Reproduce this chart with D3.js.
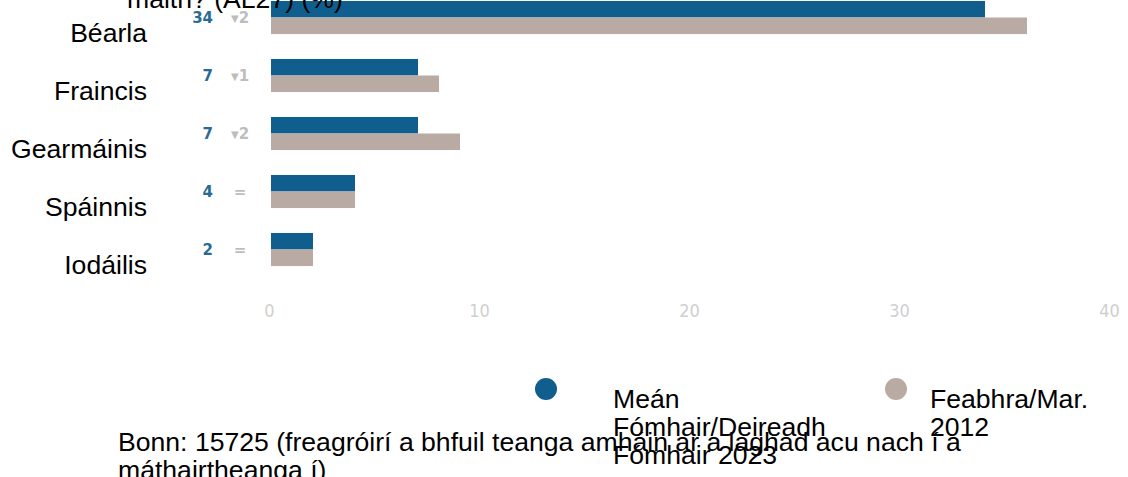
<!DOCTYPE html>
<html>
<head>
<meta charset="utf-8">
<script src="https://cdn.jsdelivr.net/npm/d3@7"></script>
<style>
  html, body { margin: 0; padding: 0; background: #fff; }
  svg { display: block; }
</style>
</head>
<body>
<svg id="chart" width="1128" height="477"></svg>
<script>
// Languages spoken well enough to hold a conversation (%)
const categories = ["Béarla", "Fraincis", "Gearmáinis", "Spáinnis", "Iodáilis"];
const values2023 = [34, 7, 7, 4, 2];
const values2012 = [36, 8, 9, 4, 2];
const seriesNames = [["Meán", "Fómhair/Deireadh", "Fómhair 2023"], ["Feabhra/Mar.", "2012"]];
const seriesColors = ["#0f5e8e", "#b9aaa3"];
const xTicks = [0, 10, 20, 30, 40];
const titleLine = "maith? (AL27) (%)";
const footnoteLines = [
  "Bonn: 15725 (freagróirí a bhfuil teanga amháin ar a laghad acu nach í a",
  "máthairtheanga í)"
];

const svg = d3.select("#chart");
const font = "'Liberation Sans', Arial, sans-serif";
const textSize = 26.6;

const x = d3.scaleLinear().domain([0, 40]).range([271, 1111]);
const y = d3.scaleBand().domain(categories)
  .range([-11.5, 278.5]).paddingInner(0.43).paddingOuter(0.215);
const ySub = d3.scaleBand().domain([0, 1]).range([0, y.bandwidth()]);

const rows = categories.map((c, i) => ({
  cat: c, vals: [values2023[i], values2012[i]]
}));

// Bars
const g = svg.append("g");
const row = g.selectAll("g.row").data(rows).join("g")
  .attr("class", "row")
  .attr("transform", d => `translate(0,${y(d.cat)})`);
row.selectAll("rect").data(d => d.vals).join("rect")
  .attr("x", x(0))
  .attr("y", (d, i) => ySub(i))
  .attr("width", d => x(d) - x(0))
  .attr("height", ySub.bandwidth())
  .attr("fill", (d, i) => seriesColors[i]);

// Value of the current wave, and change since 2012
row.append("text")
  .attr("x", 213)
  .attr("y", y.bandwidth() / 2 + 6)
  .attr("text-anchor", "end")
  .attr("font-family", "'DejaVu Sans', Verdana, sans-serif")
  .attr("font-weight", "bold")
  .attr("font-size", 15)
  .attr("fill", "#2a6b96")
  .text(d => d.vals[0]);

row.append("text")
  .attr("x", 240)
  .attr("y", y.bandwidth() / 2 + 6)
  .attr("text-anchor", "middle")
  .attr("font-family", "'DejaVu Sans', Verdana, sans-serif")
  .attr("font-weight", "bold")
  .attr("font-size", 15)
  .attr("fill", "#bdbdbd")
  .each(function(d) {
    const diff = d.vals[0] - d.vals[1];
    const t = d3.select(this);
    if (diff === 0) { t.text("="); return; }
    t.append("tspan").attr("font-size", 10).attr("dy", -1)
      .text(diff < 0 ? "▼" : "▲");
    t.append("tspan").attr("dy", 1).text(Math.abs(diff));
  });

// Category labels
g.selectAll("text.cat").data(categories).join("text")
  .attr("class", "cat")
  .attr("x", 147)
  .attr("y", d => y(d) + y.bandwidth() / 2 + 24)
  .attr("text-anchor", "end")
  .attr("font-family", font)
  .attr("font-size", textSize)
  .attr("fill", "#000")
  .text(d => d);

// X axis labels
const xAxis = d3.axisBottom(x).tickValues(xTicks).tickSize(0).tickPadding(0);
const ax = svg.append("g").attr("transform", "translate(-2,304)").call(xAxis);
ax.select(".domain").remove();
ax.selectAll("text")
  .attr("font-family", "'DejaVu Sans Condensed', 'DejaVu Sans', sans-serif")
  .attr("font-size", 18)
  .attr("fill", "#cfcfcf");

// Title (last line)
svg.append("text")
  .attr("x", 127).attr("y", 8)
  .attr("font-family", font).attr("font-size", textSize).attr("fill", "#000")
  .text(titleLine);

// Legend
const legendX = [546, 896];
const lg = svg.selectAll("g.legend").data(seriesNames).join("g")
  .attr("class", "legend")
  .attr("transform", (d, i) => `translate(${legendX[i]},389)`);
lg.append("circle").attr("r", 11).attr("fill", (d, i) => seriesColors[i]);
lg.append("text")
  .attr("x", (d, i) => i === 0 ? 67 : 34)
  .attr("y", 19)
  .attr("font-family", font).attr("font-size", textSize).attr("fill", "#000")
  .selectAll("tspan").data(d => d).join("tspan")
  .attr("x", function() { return this.parentNode.getAttribute("x"); })
  .attr("dy", (d, i) => i === 0 ? 0 : 28)
  .text(d => d);

// Footnote
svg.append("text")
  .attr("font-family", font).attr("font-size", textSize).attr("fill", "#000")
  .selectAll("tspan").data(footnoteLines).join("tspan")
  .attr("x", 118)
  .attr("y", (d, i) => 451 + i * 28)
  .text(d => d);
</script>
</body>
</html>
